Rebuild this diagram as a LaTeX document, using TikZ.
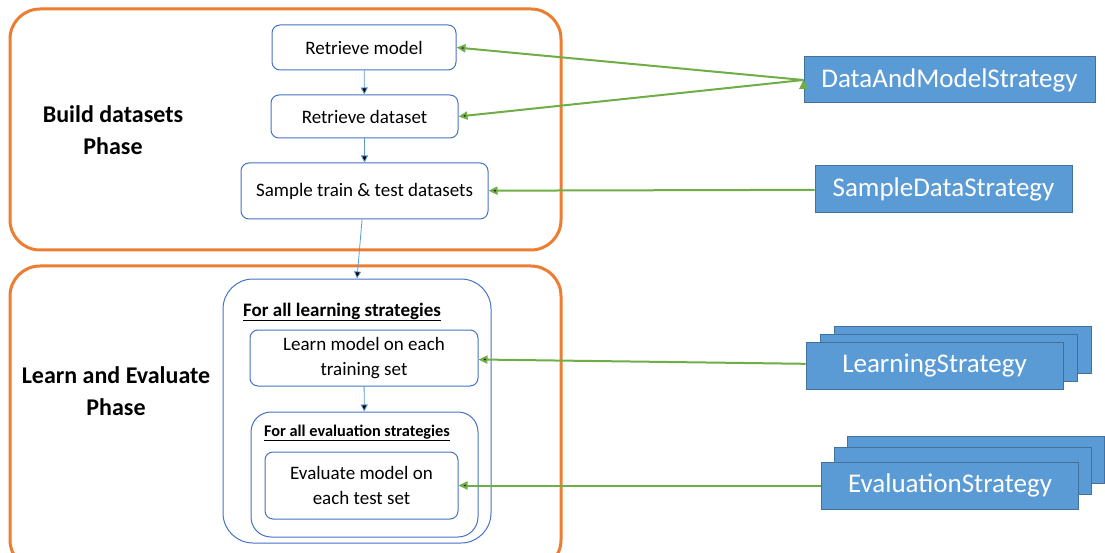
\documentclass[tikz,border=0pt]{standalone}
\usepackage{fontspec}
\setmainfont{Carlito}
\usetikzlibrary{arrows.meta,positioning}
\definecolor{phaseorange}{HTML}{ED7D31}
\definecolor{stepblue}{HTML}{4472C4}
\definecolor{flowblue}{HTML}{5B9BD5}
\definecolor{stratfill}{HTML}{5B9BD5}
\definecolor{stratdraw}{HTML}{41719C}
\definecolor{usegreen}{HTML}{70AD47}
\tikzset{
  phasebox/.style={draw=phaseorange, line width=3pt, rounded corners=30pt, inner sep=0pt},
  loopbox/.style={draw=stepblue, line width=1pt, inner sep=0pt},
  procbox/.style={draw=stepblue, line width=1pt, rounded corners=8pt, fill=white, inner sep=0pt,
    align=center, font=\fontsize{19}{25}\selectfont},
  stratbox/.style={draw=stratdraw, line width=1pt, fill=stratfill, text=white, inner sep=0pt,
    minimum width=257pt, minimum height=47pt, font=\fontsize{27}{30}\selectfont},
  phasetext/.style={align=center, font=\fontsize{24}{32}\selectfont\bfseries},
  flow/.style={-{Triangle[length=7pt,width=7pt]}, draw=flowblue, line width=0.8pt},
  uses/.style={-{Triangle[length=9pt,width=8pt]}, draw=usegreen, line width=2pt},
}
\begin{document}
\begin{tikzpicture}[x=1pt, y=-1pt]
    \useasboundingbox (0,0) rectangle (1105,553);
    \clip (0,0) rectangle (1105,553);
    % phases
    \node (build) [phasebox, minimum width=551pt, minimum height=241pt] at (285.5,129.5) {};
    \node (learneval) [phasebox, minimum width=551pt, minimum height=304pt] at (285.5,418) {};
    \node (buildtxt) [phasetext] at (113,130) {Build datasets\\Phase};
    \node (learntxt) [phasetext] at (116,391) {Learn and Evaluate\\Phase};

    % steps of the build phase
    \node (rmodel) [procbox, minimum width=184pt, minimum height=45pt] at (364,47.5) {Retrieve model};
    \node (rdata)  [procbox, minimum width=187pt, minimum height=43pt] at (364.5,116.5) {Retrieve dataset};
    \node (sample) [procbox, minimum width=247pt, minimum height=56pt] at (364.5,191) {Sample train \& test datasets};

    % nested loops
    \node (learnloop) [loopbox, rounded corners=30pt, minimum width=268pt, minimum height=264pt] at (357,411) {};
    \node (learnhead) [font=\fontsize{19}{22}\selectfont\bfseries] at (342,312) {\underline{For all learning strategies}};
    \node (learn) [procbox, minimum width=228pt, minimum height=56pt] at (364,358) {Learn model on each\\training set};
    \node (evalloop) [loopbox, rounded corners=20pt, minimum width=227pt, minimum height=125pt] at (364.5,474.5) {};
    \node (evalhead) [font=\fontsize{16.3}{19}\selectfont\bfseries] at (357,433) {\underline{For all evaluation strategies}};
    \node (evaluate) [procbox, minimum width=193pt, minimum height=67pt] at (361.5,485.5) {Evaluate model on\\each test set};

    % strategies
    \node (dms) [stratbox, minimum width=291pt, minimum height=46pt] at (949.5,80) {DataAndModelStrategy};
    \node (sds) [stratbox] at (943.5,189.5) {SampleDataStrategy};
    \node (ls3) [stratbox] at (962.5,349.5) {};
    \node (ls2) [stratbox] at (949,358) {};
    \node (ls)  [stratbox] at (934.5,365.5) {LearningStrategy};
    \node (es3) [stratbox] at (975.5,460) {};
    \node (es2) [stratbox] at (962.5,470.5) {};
    \node (es)  [stratbox] at (950,485.5) {EvaluationStrategy};

    \path [flow] (rmodel) edge (rdata);
    \path [flow] (rdata) edge (sample);
    \path [flow] (sample) edge (learnloop.north);
    \path [flow] (learn) edge (evalloop);

    \path [uses] (dms.west) edge (rmodel.east);
    \path [uses] (dms.west) edge (rdata.east);
    \path [uses] (sds) edge (sample);
    \path [uses] (ls) edge (learn);
    \path [uses] (es) edge (evaluate);
\end{tikzpicture}
\end{document}
